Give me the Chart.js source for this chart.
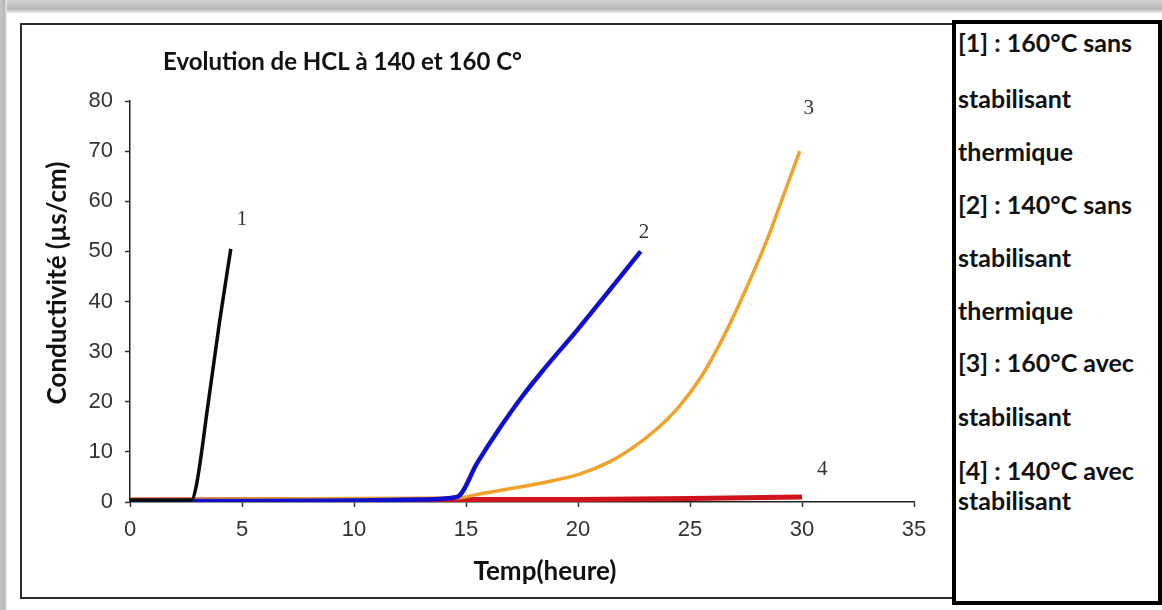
<!DOCTYPE html>
<html lang="fr">
<head>
<meta charset="utf-8">
<title>Evolution de HCL à 140 et 160 C°</title>
<script src="https://cdn.jsdelivr.net/npm/chart.js@4.4.1/dist/chart.umd.min.js"></script>
<style>
  html, body { margin: 0; padding: 0; background: #fff; }
  body { width: 1162px; height: 610px; position: relative; overflow: hidden; font-family: Lato, "Open Sans", sans-serif; }
  .cadre-haut { position: absolute; left: 0; top: 0; width: 1162px; height: 13px; background: linear-gradient(to bottom, #d2d2d2, #b9b9b9 70%, #ececec); }
  .cadre-gauche { position: absolute; left: 0; top: 0; width: 7px; height: 610px; background: linear-gradient(to right, #c6c6c6, #b6b6b6 60%, #efefef); }
  .boite { position: absolute; left: 20px; top: 23px; width: 934px; height: 576px; border: 2px solid #2a2a2a; box-sizing: border-box; }
  #graphe { position: absolute; left: 0; top: 0; }
  .legende { position: absolute; left: 952px; top: 20px; width: 210px; height: 585px; border: 4px solid #000; box-sizing: border-box; background: #fff; }
  .legende div { position: absolute; left: 2px; font-weight: bold; font-size: 25px; line-height: 30px; color: #111; white-space: nowrap; }
</style>
</head>
<body>
<div class="cadre-haut"></div>
<div class="cadre-gauche"></div>
<div class="boite"></div>
<canvas id="graphe" width="952" height="600"></canvas>
<div class="legende" id="legende"></div>

<script>
// Courbe 1 : 160°C sans stabilisant
const heures1 = [0, 2.75, 2.95, 3.5, 4.0, 4.5];
const cond1 = [0.4, 0.4, 3, 20, 36, 50.5];
// Courbe 2 : 140°C sans stabilisant
const heures2 = [0, 5, 10, 13, 14.6, 15.5, 16.5, 17.5, 18.5, 20, 22.8];
const cond2 = [0.2, 0.2, 0.3, 0.5, 1, 7.8, 14.7, 21, 26.6, 34.5, 50];
// Courbe 3 : 160°C avec stabilisant
const heures3 = [0, 14.6, 15.6, 17, 18.5, 20.1, 21.4, 22.5, 23.5, 24.5, 25.5, 26.5, 27.5, 28.5, 29.2, 29.9];
const cond3 = [0.5, 0.8, 1.6, 2.7, 3.9, 5.6, 8, 11, 14.5, 19, 25, 33, 42.5, 53, 61.5, 70];
// Courbe 4 : 140°C avec stabilisant
const heures4 = [0, 14.6, 20, 25, 30];
const cond4 = [0.4, 0.5, 0.5, 0.7, 1.0];

// numéros posés à côté des courbes
const numeros = ["1", "2", "3", "4"];
const numerosX = [5.0, 22.95, 30.3, 30.9];
const numerosY = [56.3, 53.7, 78.6, 6.4];

const ticksX = [0, 5, 10, 15, 20, 25, 30, 35];
const ticksY = [0, 10, 20, 30, 40, 50, 60, 70, 80];

const titre = "Evolution de HCL à 140 et 160 C°";
const titreY = "Conductivité (µs/cm)";
const titreX = "Temp(heure)";

const lignesLegende = [
  "[1] : 160°C sans", "stabilisant", "thermique",
  "[2] : 140°C sans", "stabilisant", "thermique",
  "[3] : 160°C avec", "stabilisant",
  "[4] : 140°C avec", "stabilisant"
];
const hauteursLegende = [42, 98, 151, 204, 257, 310, 362, 416, 470, 500];

function points(xs, ys) {
  return xs.map((h, i) => ({ x: h, y: ys[i] }));
}

// légende à droite
const legendeEl = document.getElementById("legende");
lignesLegende.forEach((txt, i) => {
  const d = document.createElement("div");
  d.textContent = txt;
  d.style.top = (hauteursLegende[i] - 15 - 24) + "px";
  legendeEl.appendChild(d);
});

// textes dessinés sur le canvas : titre, axes et numéros
const etiquettes = {
  id: "etiquettes",
  afterDatasetsDraw(chart) {
    const { ctx } = chart;
    const { x, y } = chart.scales;
    ctx.save();
    ctx.fillStyle = "#111";
    ctx.textBaseline = "middle";

    ctx.font = "bold 24px Lato";
    ctx.textAlign = "left";
    ctx.fillText(titre, 163, 62);

    ctx.font = "bold 26px Lato";
    ctx.textAlign = "center";
    ctx.fillText(titreX, 545, 572);

    ctx.save();
    ctx.translate(58, 283);
    ctx.rotate(-Math.PI / 2);
    ctx.fillText(titreY, 0, 0);
    ctx.restore();

    ctx.font = '21px "Liberation Serif"';
    ctx.fillStyle = "#333";
    numeros.forEach((n, i) => {
      ctx.fillText(n, x.getPixelForValue(numerosX[i]), y.getPixelForValue(numerosY[i]));
    });
    ctx.restore();
  }
};

const policeTicks = { family: '"Liberation Sans", Arial, sans-serif', size: 22 };

new Chart(document.getElementById("graphe"), {
  type: "line",
  data: {
    datasets: [
      { data: points(heures1, cond1), borderColor: "#0a0a0a", borderWidth: 3.5 },
      { data: points(heures2, cond2), borderColor: "#1010cc", borderWidth: 4.5 },
      { data: points(heures3, cond3), borderColor: "#f0a22a", borderWidth: 3.5 },
      { data: points(heures4, cond4), borderColor: "#d0141e", borderWidth: 5 }
    ]
  },
  options: {
    responsive: false,
    animation: false,
    elements: {
      point: { radius: 0 },
      line: { cubicInterpolationMode: "monotone", fill: false }
    },
    layout: { padding: { left: 80, right: 38, top: 101, bottom: 38 } },
    plugins: { legend: { display: false }, tooltip: { enabled: false }, title: { display: false } },
    scales: {
      x: {
        type: "linear", min: 0, max: 35,
        afterBuildTicks: s => { s.ticks = ticksX.map(v => ({ value: v })); },
        afterFit: s => { s.height = 60; },
        ticks: { font: policeTicks, color: "#333", padding: 10, maxRotation: 0 },
        grid: { drawOnChartArea: false, drawTicks: true, tickLength: 5, color: "#333", tickWidth: 1.5 },
        border: { color: "#222", width: 1.5 }
      },
      y: {
        min: 0, max: 80,
        afterBuildTicks: s => { s.ticks = ticksY.map(v => ({ value: v })); },
        afterFit: s => { s.width = 50; },
        ticks: { font: policeTicks, color: "#333", padding: 12 },
        grid: { drawOnChartArea: false, drawTicks: true, tickLength: 5, color: "#333", tickWidth: 1.5 },
        border: { color: "#222", width: 1.5 }
      }
    }
  },
  plugins: [etiquettes]
});
</script>
</body>
</html>
